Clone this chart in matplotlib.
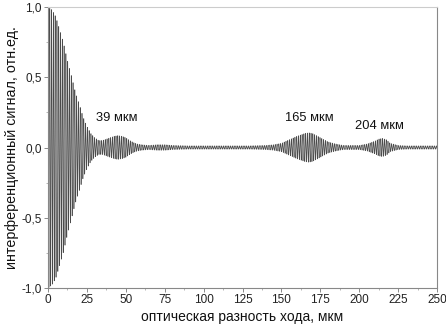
import numpy as np
import matplotlib
matplotlib.use("Agg")
import matplotlib.pyplot as plt
from matplotlib.ticker import MultipleLocator, FuncFormatter

plt.rcParams['font.family'] = ['Liberation Sans', 'DejaVu Sans']

# envelope of the interferogram (x in мкм, amplitude in отн.ед.)
env_x = [0, 2.5, 5, 7.5, 10, 12.5, 15, 17.5, 20, 22.5, 25, 27.5, 30, 32.5, 35, 37.5,
         40, 42.5, 45, 47.5, 50, 52.5, 55, 57.5, 60, 65, 70, 75, 80, 90, 100, 110,
         120, 130, 140, 145, 150, 155, 160, 165, 167.5, 170, 175, 180, 185, 190, 195,
         200, 205, 210, 212.5, 215, 217.5, 220, 225, 230, 240, 250]
env_y = [1.0, 0.98, 0.93, 0.84, 0.74, 0.62, 0.51, 0.40, 0.31, 0.22, 0.15, 0.10, 0.07, 0.05, 0.05, 0.06,
         0.07, 0.08, 0.085, 0.08, 0.07, 0.05, 0.035, 0.025, 0.02, 0.015, 0.02, 0.02, 0.015, 0.012, 0.012, 0.012,
         0.012, 0.012, 0.015, 0.02, 0.03, 0.055, 0.08, 0.1, 0.105, 0.1, 0.07, 0.04, 0.025, 0.015, 0.015,
         0.015, 0.025, 0.045, 0.06, 0.065, 0.055, 0.03, 0.015, 0.012, 0.012, 0.012]
fringe_period = 1.15  # visible fringe spacing, мкм

x_ticks = [0, 25, 50, 75, 100, 125, 150, 175, 200, 225, 250]
y_ticks = [-1.0, -0.5, 0.0, 0.5, 1.0]
labels = [("39 мкм", 44, 0.21), ("165 мкм", 168, 0.21), ("204 мкм", 213, 0.15)]

x = np.linspace(0, 250, 40000)
env = np.interp(x, env_x, env_y)
signal = env * np.cos(2 * np.pi * x / fringe_period)

fig = plt.figure(figsize=(4.46, 3.24), dpi=100)
ax = fig.add_axes([48/446, 1-288/324, (437-48)/446, (288-7)/324])
ax.plot(x, signal, color='#4a4a4a', lw=0.45)
ax.set_xlim(0, 250)
ax.set_ylim(-1.0, 1.0)
ax.set_xticks(x_ticks)
ax.set_yticks(y_ticks)
ax.xaxis.set_minor_locator(MultipleLocator(12.5))
ax.yaxis.set_minor_locator(MultipleLocator(0.25))
ax.yaxis.set_major_formatter(FuncFormatter(lambda v, p: f"{v:.1f}".replace('.', ',')))
ax.tick_params(axis='both', which='major', labelsize=8.5, length=3, width=0.6,
               color='#777777', labelcolor='#222222', pad=1.5)
ax.tick_params(axis='both', which='minor', length=1.5, width=0.5, color='#999999')
for s in ['left', 'bottom', 'right']:
    ax.spines[s].set_color('#888888')
    ax.spines[s].set_linewidth(0.8)
ax.spines['top'].set_color('#cccccc')
ax.spines['top'].set_linewidth(0.8)
for t, tx, ty in labels:
    ax.text(tx, ty, t, ha='center', va='center', fontsize=9.3, color='#111111')
ax.set_xlabel("оптическая разность хода, мкм", fontsize=10, color='#111111', labelpad=3)
ax.set_ylabel("интерференционный сигнал, отн.ед.", fontsize=10.3, color='#111111', labelpad=2)
fig.savefig("out.png", dpi=100)
